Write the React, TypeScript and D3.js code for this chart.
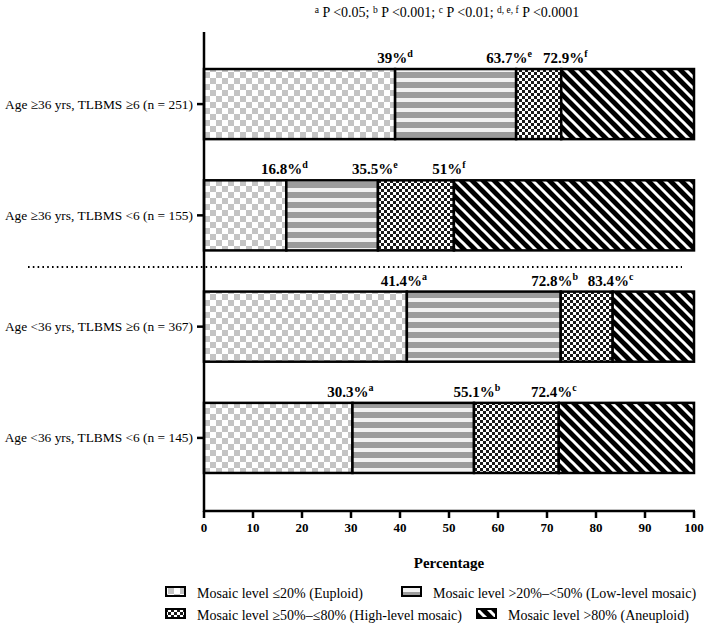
import React from 'react';
import * as d3 from 'd3';

// groups, top to bottom
const categories = [
  'Age ≥36 yrs, TLBMS ≥6 (n = 251)',
  'Age ≥36 yrs, TLBMS <6 (n = 155)',
  'Age <36 yrs, TLBMS ≥6 (n = 367)',
  'Age <36 yrs, TLBMS <6 (n = 145)',
];

// cumulative percentages at the segment boundaries
const cumulative = [
  [39, 63.7, 72.9],
  [16.8, 35.5, 51],
  [41.4, 72.8, 83.4],
  [30.3, 55.1, 72.4],
];

const superscripts = [
  ['d', 'e', 'f'],
  ['d', 'e', 'f'],
  ['a', 'b', 'c'],
  ['a', 'b', 'c'],
];

const valueLabels = [
  ['39%', '63.7%', '72.9%'],
  ['16.8%', '35.5%', '51%'],
  ['41.4%', '72.8%', '83.4%'],
  ['30.3%', '55.1%', '72.4%'],
];

const seriesNames = [
  'Mosaic level ≤20% (Euploid)',
  'Mosaic level >20%–<50% (Low-level mosaic)',
  'Mosaic level ≥50%–≤80% (High-level mosaic)',
  'Mosaic level >80% (Aneuploid)',
];
const patternIds = ['pEuploid', 'pLow', 'pHigh', 'pAneu'];

const xTicks = d3.range(0, 101, 10);

const W = 706;
const H = 623;
const serif = '"Liberation Serif", "Times New Roman", serif';

// small hand nudges of the value labels, as in the original figure
const labelNudge = [
  [0, -7, 4],
  [-2, -3, -5],
  [-3, -6, -2],
  [-2, 3, -5],
];
// legend item positions (flow layout of the original)
const legendPos = [
  [166, 587], [402, 587],
  [166, 609], [477, 609],
];

const App: React.FC = () => {
  const x = d3.scaleLinear().domain([0, 100]).range([204, 694]);
  const y = d3.scaleBand<string>()
    .domain(categories)
    .range([49, 493])
    .paddingInner(0.37)
    .paddingOuter(0.18);
  const axisY = 511;

  return (
    <svg width={W} height={H} style={{ position: 'absolute', left: 0, top: 0, background: '#fff' }}
      fontFamily={serif}>
      <defs>
        <pattern id="pEuploid" patternUnits="userSpaceOnUse" width={12} height={12}>
          <rect width={12} height={12} fill="#fff" />
          <rect x={0} y={0} width={6} height={6} fill="#c4c4c4" />
          <rect x={6} y={6} width={6} height={6} fill="#c4c4c4" />
        </pattern>
        <pattern id="pLow" patternUnits="userSpaceOnUse" width={10} height={10}>
          <rect width={10} height={10} fill="#f2f2f2" />
          <rect x={0} y={2} width={10} height={6} fill="#9c9c9c" />
        </pattern>
        <pattern id="pHigh" patternUnits="userSpaceOnUse" width={6} height={6}>
          <rect width={6} height={6} fill="#fff" />
          <rect x={0} y={0} width={3} height={3} fill="#1a1a1a" />
          <rect x={3} y={3} width={3} height={3} fill="#1a1a1a" />
        </pattern>
        <pattern id="pAneu" patternUnits="userSpaceOnUse" width={11} height={11}>
          <rect width={11} height={11} fill="#000" />
          <path d="M0,0 L11,11 M-5.5,5.5 L5.5,16.5 M5.5,-5.5 L16.5,5.5" stroke="#fff" strokeWidth={3} />
        </pattern>
      </defs>

      {/* significance note */}
      <text x={447} y={17} textAnchor="middle" fontSize={14}>
        <tspan fontSize={9.5} dy={-4}>a</tspan><tspan dy={4}> P &lt;0.05; </tspan>
        <tspan fontSize={9.5} dy={-4}>b</tspan><tspan dy={4}> P &lt;0.001; </tspan>
        <tspan fontSize={9.5} dy={-4}>c</tspan><tspan dy={4}> P &lt;0.01; </tspan>
        <tspan fontSize={9.5} dy={-4}>d, e, f</tspan><tspan dy={4}> P &lt;0.0001</tspan>
      </text>

      {/* bars */}
      {categories.map((cat, i) => {
        const bounds = [0, ...cumulative[i], 100];
        const y0 = y(cat)!;
        const bh = y.bandwidth();
        return (
          <g key={cat}>
            {patternIds.map((pid, s) => (
              <rect key={pid}
                x={x(bounds[s])} y={y0}
                width={x(bounds[s + 1]) - x(bounds[s])} height={bh}
                fill={`url(#${pid})`} stroke="#000" strokeWidth={2.5} />
            ))}
            {cumulative[i].map((v, s) => (
              <text key={s} x={x(v) + labelNudge[i][s]} y={y0 - 6} textAnchor="middle"
                fontSize={15} fontWeight="bold">
                {valueLabels[i][s]}
                <tspan fontSize={10} dy={-6}>{superscripts[i][s]}</tspan>
              </text>
            ))}
            <line x1={197} x2={204} y1={y0 + bh / 2} y2={y0 + bh / 2} stroke="#000" strokeWidth={2.5} />
            <text x={193} y={y0 + bh / 2 + 4.5} textAnchor="end" fontSize={13.4}>{cat}</text>
          </g>
        );
      })}

      {/* dotted separator */}
      <line x1={28} x2={682} y1={267} y2={267} stroke="#000" strokeWidth={2.2}
        strokeDasharray="1.6 3.2" />

      {/* axes */}
      <line x1={204} x2={204} y1={32} y2={axisY + 1} stroke="#000" strokeWidth={2.5} />
      <line x1={203} x2={x(100) + 1} y1={axisY} y2={axisY} stroke="#000" strokeWidth={2.5} />
      {xTicks.map(t => (
        <g key={t}>
          <line x1={x(t)} x2={x(t)} y1={axisY} y2={axisY + 7} stroke="#000" strokeWidth={2.5} />
          <text x={x(t)} y={axisY + 21} textAnchor="middle" fontSize={13} fontWeight="bold">{t}</text>
        </g>
      ))}
      <text x={449} y={568} textAnchor="middle" fontSize={15} fontWeight="bold">Percentage</text>

      {/* legend */}
      {seriesNames.map((name, s) => {
        const [lx, ly] = legendPos[s];
        return (
          <g key={name}>
            <rect x={lx} y={ly} width={19} height={9} fill={`url(#${patternIds[s]})`}
              stroke="#000" strokeWidth={2} />
            <text x={lx + 31} y={ly + 11} fontSize={14}>{name}</text>
          </g>
        );
      })}
    </svg>
  );
};

export default App;
